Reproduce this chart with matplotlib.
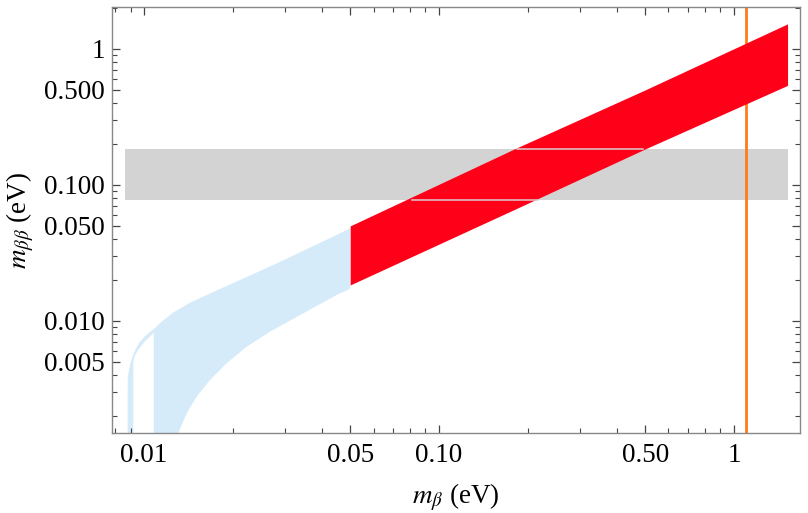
import matplotlib
matplotlib.use("Agg")
import matplotlib.pyplot as plt

plt.rcParams['font.family'] = ['Liberation Serif', 'DejaVu Serif']
plt.rcParams['mathtext.fontset'] = 'stix'

# light blue region (normal ordering), outer upper edge
blue_up_x = [0.00880, 0.00880, 0.00881, 0.00899, 0.00923, 0.00960, 0.01010,
             0.01079, 0.01151, 0.01257, 0.01432, 0.01632, 0.02116, 0.02743,
             0.03561, 0.04617, 0.05]
blue_up_y = [0.001, 0.00311, 0.00388, 0.00489, 0.00579, 0.00686, 0.00776,
             0.00873, 0.00992, 0.01155, 0.01363, 0.01553, 0.02002, 0.02581,
             0.03368, 0.04414, 0.04788]
# lower edge
blue_lo_x = [0.01307, 0.01307, 0.01396, 0.01509, 0.01674, 0.01907, 0.02229,
             0.02674, 0.03467, 0.04500, 0.05]
blue_lo_y = [0.001, 0.0015, 0.00210, 0.00278, 0.00368, 0.00489, 0.00647,
             0.00834, 0.01139, 0.01553, 0.01725]
# white gap inside the blue region
gap_x = [0.00920, 0.00920, 0.00932, 0.00960, 0.01010, 0.01079, 0.01079]
gap_y = [0.001, 0.00502, 0.00558, 0.00623, 0.00713, 0.00816, 0.001]

# red band (quasi-degenerate)
red_x = [0.05, 0.18, 0.50, 1.52]
red_top = [0.05, 0.184, 0.50, 1.53]
red_bot = [0.0184, 0.066, 0.184, 0.54]

# gray horizontal band
gray_x = [0.00862, 1.52]
gray_lo, gray_hi = 0.0776, 0.184
# artefact lines inside red band
line_hi_x = [0.1834, 0.490]
line_lo_x = [0.0808, 0.2171]

# vertical orange line
m_beta_lim = 1.1

xticks = [0.01, 0.05, 0.1, 0.5, 1]
xlabels = ['0.01', '0.05', '0.10', '0.50', '1']
yticks = [0.005, 0.01, 0.05, 0.1, 0.5, 1]
ylabels = ['0.005', '0.010', '0.050', '0.100', '0.500', '1']
xminor = [0.008, 0.009, 0.02, 0.03, 0.04, 0.06, 0.07, 0.08, 0.09,
          0.2, 0.3, 0.4, 0.6, 0.7, 0.8, 0.9]
yminor = [0.002, 0.003, 0.004, 0.006, 0.007, 0.008, 0.009,
          0.02, 0.03, 0.04, 0.06, 0.07, 0.08, 0.09,
          0.2, 0.3, 0.4, 0.6, 0.7, 0.8, 0.9, 2]

fig = plt.figure(figsize=(8.08, 5.13), dpi=100)
ax = fig.add_axes([0.1386, 0.156, 0.8514, 0.8304])
ax.set_xscale('log')
ax.set_yscale('log')

ax.fill_between(gray_x, gray_lo, gray_hi, color='#D3D3D3', lw=0, zorder=1)
ax.axvline(m_beta_lim, color='#FF7A1A', lw=2.0, zorder=2)

ax.fill(blue_up_x + blue_lo_x[::-1], blue_up_y + blue_lo_y[::-1],
        color='#D6EBFA', lw=0, zorder=1.5)
ax.fill(gap_x, gap_y, color='white', lw=0, zorder=1.6)

ax.fill_between(red_x, red_bot, red_top, color='#FF0019', lw=0, zorder=3)
ax.plot(line_hi_x, [gray_hi, gray_hi], color='#DCCBCE', lw=1.1, zorder=4)
ax.plot(line_lo_x, [gray_lo, gray_lo], color='#DCCBCE', lw=1.1, zorder=4)

ax.set_xlim(0.007788, 1.674)
ax.set_ylim(0.001501, 2.036)

ax.set_xticks(xticks)
ax.set_xticklabels(xlabels)
ax.set_xticks(xminor, minor=True)
ax.set_xticklabels([], minor=True)
ax.set_yticks(yticks)
ax.set_yticklabels(ylabels)
ax.set_yticks(yminor, minor=True)
ax.set_yticklabels([], minor=True)

ax.tick_params(which='both', direction='in', top=True, right=True,
               color='#444444', labelsize=19.5)
ax.tick_params(axis='x', pad=7)
ax.tick_params(axis='y', pad=5)
ax.tick_params(which='major', length=6, width=0.9)
ax.tick_params(which='minor', length=3.5, width=0.8)
for s in ax.spines.values():
    s.set_color('#888888')
    s.set_linewidth(1.0)

ax.set_xlabel(r'$m_{\beta}$ (eV)', fontsize=19.5, labelpad=10)
ax.set_ylabel(r'$m_{\beta\beta}$ (eV)', fontsize=19.5, labelpad=6)

fig.savefig('out.png', dpi=100)
